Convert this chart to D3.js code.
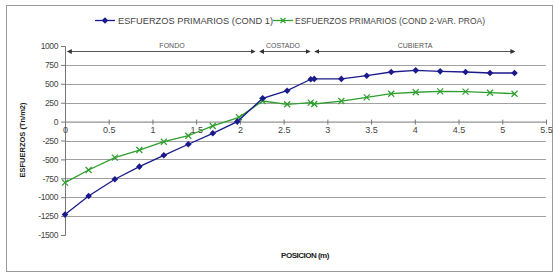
<!DOCTYPE html>
<html>
<head>
<meta charset="utf-8">
<script src="https://cdn.jsdelivr.net/npm/d3@7"></script>
<style>
  body { margin: 0; background: #fff; }
  text { font-family: "Liberation Sans", Arial, sans-serif; }
</style>
</head>
<body>
<svg id="chart" width="554" height="275"></svg>
<script>
// data
const posCond1 = [0, 0.27, 0.57, 0.85, 1.13, 1.41, 1.69, 1.97, 2.26, 2.54, 2.81, 2.85, 3.16, 3.45, 3.73, 4.01, 4.29, 4.58, 4.86, 5.14];
const valCond1 = [-1230, -985, -763, -596, -446, -300, -155, 0, 308, 409, 560, 565, 565, 607, 656, 678, 665, 656, 643, 643];
const posCond2 = [0, 0.27, 0.57, 0.85, 1.13, 1.41, 1.69, 1.99, 2.26, 2.54, 2.81, 2.85, 3.16, 3.45, 3.73, 4.01, 4.29, 4.58, 4.86, 5.14];
const valCond2 = [-808, -640, -477, -376, -266, -187, -58, 57, 272, 229, 250, 233, 272, 321, 369, 388, 400, 396, 382, 369];
const seriesNames = ["ESFUERZOS PRIMARIOS (COND 1)", "ESFUERZOS PRIMARIOS (COND 2-VAR. PROA)"];
const seriesColors = ["#1a1a8c", "#2e9e2e"];
const zones = [
  { name: "FONDO", from: 0.03, to: 2.17 },
  { name: "COSTADO", from: 2.23, to: 2.8 },
  { name: "CUBIERTA", from: 2.86, to: 5.14 }
];
const xTicks = [0, 0.5, 1, 1.5, 2, 2.5, 3, 3.5, 4, 4.5, 5, 5.5];
const yTicks = [1000, 750, 500, 250, 0, -250, -500, -750, -1000, -1250, -1500];

const svg = d3.select("#chart");

// outer frame
svg.append("rect")
  .attr("x", 6.5).attr("y", 5.5)
  .attr("width", 546).attr("height", 266)
  .attr("fill", "none").attr("stroke", "#9a9a9a").attr("stroke-width", 1);

const x = d3.scaleLinear().domain([0, 5.5]).range([65, 546]);
const y = d3.scaleLinear().domain([-1500, 1000]).range([235, 46]);

// gridlines (none at top / bottom)
svg.append("g")
  .selectAll("line")
  .data(yTicks.filter(d => d !== 1000 && d !== -1500 && d !== 0))
  .join("line")
  .attr("x1", x(0)).attr("x2", x(5.5))
  .attr("y1", d => Math.round(y(d)) + 0.5).attr("y2", d => Math.round(y(d)) + 0.5)
  .attr("stroke", "#a0a0a0").attr("stroke-width", 1);

// y axis
const yAxis = svg.append("g")
  .attr("transform", `translate(${x(0)},0)`)
  .call(d3.axisLeft(y).tickValues(yTicks).tickSize(4).tickFormat(d => String(d)));
yAxis.select(".domain").attr("stroke", "#777");
yAxis.selectAll(".tick line").attr("stroke", "#777");
yAxis.selectAll(".tick text")
  .attr("font-size", 8.5).attr("fill", "#444").attr("x", -7)
  .style("letter-spacing", "-0.4px");

// x axis at y = 0
const xAxis = svg.append("g")
  .attr("transform", `translate(0,${y(0)})`)
  .call(d3.axisBottom(x).tickValues(xTicks).tickSize(3).tickFormat(d => String(d)));
xAxis.select(".domain").attr("stroke", "#777").attr("d", `M${x(0)},0.5H${x(5.5)}`);
xAxis.selectAll(".tick line").attr("stroke", "#777").attr("y1", -2).attr("y2", 3);
xAxis.selectAll(".tick text")
  .attr("font-size", 9).attr("fill", "#444").attr("dy", "0.55em");

// axis titles
svg.append("text")
  .attr("transform", `translate(25,140) rotate(-90)`)
  .attr("text-anchor", "middle")
  .attr("font-size", 7.5).attr("font-weight", "bold").attr("fill", "#222")
  .text("ESFUERZOS (Tn/m2)");
svg.append("text")
  .attr("x", 305).attr("y", 258)
  .attr("text-anchor", "middle")
  .attr("font-size", 8).attr("font-weight", "bold").attr("fill", "#222")
  .style("letter-spacing", "-0.5px")
  .text("POSICION (m)");

// zone arrows
const defs = svg.append("defs");
defs.append("marker")
  .attr("id", "arr").attr("viewBox", "0 0 6 6")
  .attr("refX", 5).attr("refY", 3)
  .attr("markerWidth", 5).attr("markerHeight", 5)
  .attr("orient", "auto-start-reverse")
  .append("path").attr("d", "M0,0L6,3L0,6Z").attr("fill", "#333");

const zoneG = svg.append("g");
zones.forEach(z => {
  zoneG.append("line")
    .attr("x1", x(z.from)).attr("x2", x(z.to))
    .attr("y1", 51.5).attr("y2", 51.5)
    .attr("stroke", "#555").attr("stroke-width", 1)
    .attr("marker-start", "url(#arr)").attr("marker-end", "url(#arr)");
  zoneG.append("text")
    .attr("x", z.name === "FONDO" ? 172 : z.name === "COSTADO" ? 283 : 415)
    .attr("y", 48)
    .attr("text-anchor", "middle")
    .attr("font-size", 7).attr("fill", "#555")
    .text(z.name);
});

// markers
const diamond = "M0,-3.3L3.3,0L0,3.3L-3.3,0Z";
const cross = r => `M${-r},${-r}L${r},${r}M${-r},${r}L${r},${-r}`;

// series
const line = d3.line().x(d => x(d[0])).y(d => y(d[1]));
const data1 = posCond1.map((p, i) => [p, valCond1[i]]);
const data2 = posCond2.map((p, i) => [p, valCond2[i]]);

svg.append("path").datum(data2)
  .attr("d", line).attr("fill", "none")
  .attr("stroke", seriesColors[1]).attr("stroke-width", 1.3);
svg.append("g").selectAll("path")
  .data(data2).join("path")
  .attr("d", cross(3))
  .attr("transform", d => `translate(${x(d[0])},${y(d[1])})`)
  .attr("stroke", seriesColors[1]).attr("stroke-width", 1.2);

svg.append("path").datum(data1)
  .attr("d", line).attr("fill", "none")
  .attr("stroke", seriesColors[0]).attr("stroke-width", 1.3);
svg.append("g").selectAll("path")
  .data(data1).join("path")
  .attr("d", diamond)
  .attr("transform", d => `translate(${x(d[0])},${y(d[1])})`)
  .attr("fill", seriesColors[0]);

// legend
const legend = svg.append("g").attr("transform", "translate(0,20)");
const legendItems = [
  { x0: 95, tx: 118, w: 155 },
  { x0: 273, tx: 295, w: 190 }
];
legendItems.forEach((it, i) => {
  legend.append("line")
    .attr("x1", it.x0).attr("x2", it.x0 + 20)
    .attr("y1", 0.5).attr("y2", 0.5)
    .attr("stroke", seriesColors[i]).attr("stroke-width", 1.3);
  legend.append("path")
    .attr("d", i === 0 ? diamond : cross(2.5))
    .attr("transform", `translate(${it.x0 + 10},0.5)`)
    .attr("fill", i === 0 ? seriesColors[0] : "none")
    .attr("stroke", i === 0 ? "none" : seriesColors[1])
    .attr("stroke-width", 1.1);
  legend.append("text")
    .attr("x", it.tx).attr("y", 3.5)
    .attr("font-size", 8.5).attr("fill", "#444")
    .attr("textLength", it.w).attr("lengthAdjust", "spacingAndGlyphs")
    .text(seriesNames[i]);
});
</script>
</body>
</html>
